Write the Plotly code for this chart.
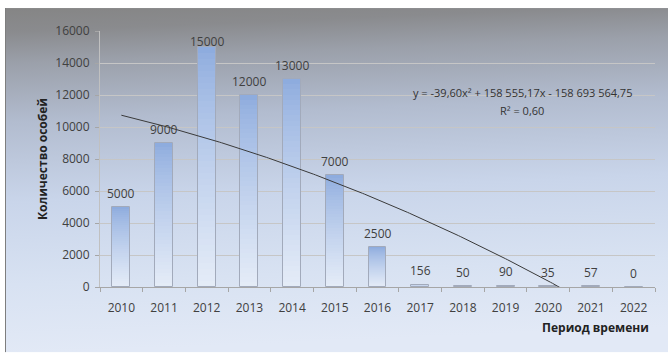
import base64
import numpy as np
import plotly.graph_objects as go

# Population counts by year
years = [2010, 2011, 2012, 2013, 2014, 2015, 2016, 2017, 2018, 2019, 2020, 2021, 2022]
counts = [5000, 9000, 15000, 12000, 13000, 7000, 2500, 156, 50, 90, 35, 57, 0]
y_tick_values = [0, 2000, 4000, 6000, 8000, 10000, 12000, 14000, 16000]

equation_text = "y = -39,60x² + 158\u00a0555,17x - 158\u00a0693\u00a0564,75"
r2_text = "R² = 0,60"
y_title = "Количество особей"
x_title = "Период времени"

FONT = "Open Sans"
W, H = 668, 353
ML, MR, MT, MB = 100, 13, 31, 65.5
plot_w = W - ML - MR
plot_h = H - MT - MB
Y_MAX = 16000
BAR_W = 0.42

fig = go.Figure()

# Bars with a vertical gradient: stacked, progressively shorter layers
top_rgb = np.array([142, 172, 222])
bot_rgb = np.array([230, 237, 248])
steps = 40
for k in range(steps):
    frac = k / steps
    t = frac ** 0.8
    c = top_rgb + (bot_rgb - top_rgb) * t
    fig.add_trace(go.Bar(
        x=years, y=[v * (1 - frac) for v in counts], width=BAR_W,
        marker=dict(color=f"rgb({c[0]:.0f},{c[1]:.0f},{c[2]:.0f})", line=dict(width=0)),
        hoverinfo="skip", showlegend=False,
    ))
# Bar outlines
fig.add_trace(go.Bar(
    x=years, y=counts, width=BAR_W,
    marker=dict(color="rgba(0,0,0,0)", line=dict(color="#a2aabb", width=1)),
    hoverinfo="skip", showlegend=False,
))

# Polynomial (2nd order) trend line
coef = np.polyfit(years, counts, 2)
xs = np.linspace(years[0], years[-1], 241)
fig.add_trace(go.Scatter(
    x=xs, y=np.polyval(coef, xs), mode="lines",
    line=dict(color="#3a3a3a", width=1), hoverinfo="skip", showlegend=False,
))

# Value labels above the bars
px_per_unit = plot_h / Y_MAX
annotations = []
for yr, v in zip(years, counts):
    shift = min(14, (Y_MAX - v) * px_per_unit - 11)
    annotations.append(dict(
        x=yr, y=v, xref="x", yref="y", text=str(v), showarrow=False,
        yanchor="middle", yshift=shift,
        font=dict(family=FONT, size=12, color="#404040"),
    ))

# Trend equation
annotations.append(dict(
    xref="paper", yref="paper", x=(522 - ML) / plot_w, y=(H - MB - 93) / plot_h,
    text=equation_text, showarrow=False, xanchor="center", yanchor="middle",
    font=dict(family=FONT, size=11, color="#333333"),
))
annotations.append(dict(
    xref="paper", yref="paper", x=(522 - ML) / plot_w, y=(H - MB - 111) / plot_h,
    text=r2_text, showarrow=False, xanchor="center", yanchor="middle",
    font=dict(family=FONT, size=11, color="#333333"),
))

# Axis titles
annotations.append(dict(
    xref="paper", yref="paper", x=0, y=0.5, xshift=42 - ML, textangle=-90,
    text=f"<b>{y_title}</b>", showarrow=False, xanchor="center", yanchor="middle",
    font=dict(family=FONT, size=12, color="#222222"),
))
annotations.append(dict(
    xref="paper", yref="paper", x=1, y=0, xshift=-4, yshift=-40,
    text=f"<b>{x_title}</b>", showarrow=False, xanchor="right", yanchor="middle",
    font=dict(family=FONT, size=12, color="#222222"),
))

# Gradient panel behind the chart
PX0, PY0 = 5, 8
pw, ph = W - PX0, H - PY0
svg = f"""<svg xmlns='http://www.w3.org/2000/svg' width='{pw}' height='{ph}' viewBox='0 0 {pw} {ph}' preserveAspectRatio='none'>
<defs><linearGradient id='g' x1='0' y1='0' x2='0.08' y2='1'>
<stop offset='0' stop-color='#858585'/>
<stop offset='0.07' stop-color='#8a8b8e'/>
<stop offset='0.16' stop-color='#9ba0aa'/>
<stop offset='0.33' stop-color='#b2bccf'/>
<stop offset='0.56' stop-color='#c9d5ea'/>
<stop offset='0.8' stop-color='#d8e2f2'/>
<stop offset='1' stop-color='#e2e9f6'/>
</linearGradient></defs>
<rect x='0' y='0' width='{pw}' height='{ph}' fill='url(#g)'/>
<line x1='0.5' y1='0' x2='0.5' y2='{ph}' stroke='#7d7d7d' stroke-width='1'/>
</svg>"""
src = "data:image/svg+xml;base64," + base64.b64encode(svg.encode()).decode()

fig.update_layout(
    width=W, height=H,
    margin=dict(l=ML, r=MR, t=MT, b=MB, pad=0),
    paper_bgcolor="white", plot_bgcolor="white",
    barmode="overlay", bargap=0,
    font=dict(family=FONT, size=12, color="#404040"),
    annotations=annotations,
    images=[dict(
        source=src, xref="paper", yref="paper",
        x=(PX0 - ML) / plot_w, y=(H - MB - PY0) / plot_h,
        sizex=pw / plot_w, sizey=ph / plot_h,
        xanchor="left", yanchor="top", sizing="stretch", layer="below",
    )],
    xaxis=dict(
        range=[years[0] - 0.5, years[-1] + 0.5], tickvals=years,
        ticks="", showgrid=False, zeroline=False,
        showline=True, linecolor="#a6a6a6", linewidth=1,
        minor=dict(tick0=years[0] - 0.5, dtick=1, ticks="outside", ticklen=4,
                   tickcolor="#a6a6a6", showgrid=False),
        tickfont=dict(family=FONT, size=12, color="#404040"),
        ticklabelstandoff=10,
    ),
    yaxis=dict(
        range=[0, Y_MAX], tickvals=y_tick_values, tickformat="d",
        showgrid=True, gridcolor="#c6c6c6", gridwidth=1, zeroline=False,
        ticks="outside", ticklen=4, tickcolor="#a6a6a6",
        showline=True, linecolor="#c0c0c0", linewidth=1,
        tickfont=dict(family=FONT, size=12, color="#404040"),
        ticklabelstandoff=3,
    ),
)

fig.write_html("out.html")
